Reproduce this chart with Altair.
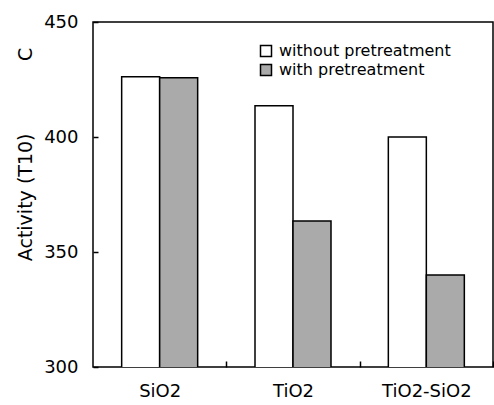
import altair as alt
import pandas as pd

categories = ["SiO2", "TiO2", "TiO2-SiO2"]
series = ["without pretreatment", "with pretreatment"]
without_vals = [426.2, 413.6, 400.0]
with_vals = [425.8, 363.5, 340.0]
y_ticks = [300, 350, 400, 450]

rows = []
for c, a, b in zip(categories, without_vals, with_vals):
    rows.append({"cat": c, "series": series[0], "value": a})
    rows.append({"cat": c, "series": series[1], "value": b})
df = pd.DataFrame(rows)

FONT = "DejaVu Sans"
GAP = "\u00a0" * 12
W, H = 400, 345
STEP = W / len(categories)

chart = alt.Chart(df).mark_bar(stroke="black", strokeWidth=1.5, clip=True).encode(
    x=alt.X("cat:N", sort=categories,
            scale=alt.Scale(paddingInner=0.43, paddingOuter=0.215),
            axis=alt.Axis(title=None, labelAngle=0, offset=-6, tickSize=6,
                          tickOffset=STEP / 2, labelOffset=-STEP / 2,
                          domain=False, grid=False, labelPadding=15,
                          labelFontSize=18, labelFont=FONT, labelColor="black",
                          tickColor="black", tickWidth=1.5, zindex=1)),
    xOffset=alt.XOffset("series:N", sort=series,
                        scale=alt.Scale(domain=series, paddingInner=0, paddingOuter=0)),
    y=alt.Y("value:Q", scale=alt.Scale(domain=[300, 450], nice=False, zero=False),
            axis=alt.Axis(values=y_ticks, offset=-5, tickSize=5, domain=False, grid=False,
                          labelPadding=15, labelFontSize=18, labelFont=FONT,
                          labelColor="black", tickColor="black", tickWidth=1.5, zindex=1,
                          title="Activity (T10)" + GAP + "C",
                          titleFont=FONT, titleFontSize=19, titleFontWeight="normal",
                          titleColor="black", titleX=-63, titleY=132,
                          titleBaseline="bottom", titleAlign="center", titleAngle=270)),
    color=alt.Color("series:N", sort=series,
                    scale=alt.Scale(domain=series, range=["white", "#aaaaaa"]),
                    legend=alt.Legend(title=None, orient="none", legendX=165, legendY=21,
                                      symbolType="square", symbolSize=121,
                                      symbolStrokeColor="black", symbolStrokeWidth=1.5,
                                      labelFontSize=16, labelFont=FONT, labelColor="black",
                                      labelLimit=0, rowPadding=1, labelOffset=5, padding=0))
).properties(
    width=W, height=H,
    autosize=alt.AutoSizeParams(type="none"),
    padding={"left": 93, "top": 22, "right": 1, "bottom": 38}
).configure_view(stroke="black", strokeWidth=1.5)

chart.save("out.html", embed_options={"renderer": "svg", "actions": False})
